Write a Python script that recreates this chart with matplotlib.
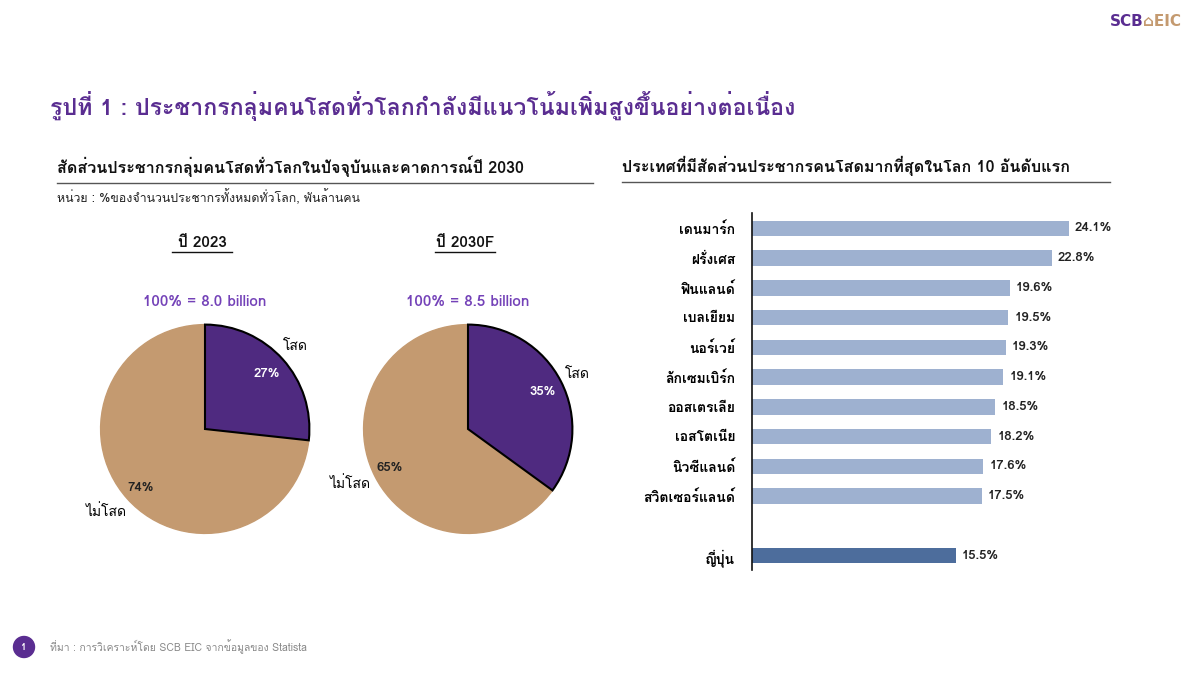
import matplotlib
matplotlib.use("Agg")
import matplotlib.pyplot as plt
from matplotlib.patches import Ellipse

# Loma renders Thai tone marks correctly without shaping
plt.rcParams["font.family"] = ["Loma", "DejaVu Sans"]

# data
pie_years = ["ปี 2023", "ปี 2030F"]
pie_totals = ["100% = 8.0 billion", "100% = 8.5 billion"]
pie_labels = ["โสด", "ไม่โสด"]
single_2023 = [27, 74]
single_2030 = [35, 65]

countries = ["เดนมาร์ก", "ฝรั่งเศส", "ฟินแลนด์", "เบลเยียม", "นอร์เวย์",
             "ลักเซมเบิร์ก", "ออสเตรเลีย", "เอสโตเนีย", "นิวซีแลนด์", "สวิตเซอร์แลนด์"]
shares = [24.1, 22.8, 19.6, 19.5, 19.3, 19.1, 18.5, 18.2, 17.6, 17.5]
japan_label = "ญี่ปุ่น"
japan_share = 15.5

purple = "#4F2A80"
tan = "#C49A70"
light_blue = "#9EB1D0"
dark_blue = "#4D6D9C"
title_purple = "#5A2D91"

W, H = 1200, 675
fig = plt.figure(figsize=(12, 6.75), dpi=100)
fig.patch.set_facecolor("white")


def fx(px):
    return px / W


def fy(py):
    return 1 - py / H


# header / logo
fig.text(fx(1110), fy(22), "SCB", color=title_purple, fontsize=11, fontweight="bold",
         ha="left", va="center", family=["DejaVu Sans"])
fig.text(fx(1143), fy(22), "⌂EIC", color=tan, fontsize=11, fontweight="bold",
         ha="left", va="center", family=["DejaVu Sans"])
fig.text(fx(50), fy(106), "รูปที่ 1 : ประชากรกลุ่มคนโสดทั่วโลกกำลังมีแนวโน้มเพิ่มสูงขึ้นอย่างต่อเนื่อง",
         color=title_purple, fontsize=16.7, fontweight="bold", ha="left", va="center")

# section headings
fig.text(fx(57), fy(166), "สัดส่วนประชากรกลุ่มคนโสดทั่วโลกในปัจจุบันและคาดการณ์ปี 2030",
         fontsize=11.6, fontweight="bold", ha="left", va="center", color="#111111")
fig.add_artist(plt.Line2D([fx(57), fx(593)], [fy(183), fy(183)], color="#555555", lw=1))
fig.text(fx(57), fy(197), "หน่วย : %ของจำนวนประชากรทั้งหมดทั่วโลก, พันล้านคน",
         fontsize=8.9, ha="left", va="center", color="#222222")

fig.text(fx(622), fy(166), "ประเทศที่มีสัดส่วนประชากรคนโสดมากที่สุดในโลก 10 อันดับแรก",
         fontsize=11.6, fontweight="bold", ha="left", va="center", color="#111111")
fig.add_artist(plt.Line2D([fx(622), fx(1110)], [fy(182), fy(182)], color="#555555", lw=1))

# pies
pie_data = [single_2023, single_2030]
centers = [(205, 429), (468, 429)]
r = 106.5
label_px = [
    {"pct": [(268, 373), (139, 489)], "lab": [(297, 345), (104, 513)]},
    {"pct": [(544, 391), (388, 469)], "lab": [(580, 373), (348, 485)]},
]
for i, vals in enumerate(pie_data):
    cx, cy = centers[i]
    ax = fig.add_axes([fx(cx - r), fy(cy + r), 2 * r / W, 2 * r / H])
    wedges, _ = ax.pie(vals, colors=[purple, tan], startangle=90, counterclock=False,
                       radius=1)
    wedges[0].set_edgecolor("black")
    wedges[0].set_linewidth(1.5)
    wedges[0].set_zorder(3)
    wedges[1].set_edgecolor(tan)
    ax.set_xlim(-1.02, 1.02)
    ax.set_ylim(-1.02, 1.02)
    for j, v in enumerate(vals):
        px, py = label_px[i]["pct"][j]
        ax.text((px - cx) / r, (cy - py) / r, f"{v}%", ha="center", va="center",
                fontsize=9.5, fontweight="bold", color="white" if j == 0 else "#222222",
                zorder=5)
        px, py = label_px[i]["lab"][j]
        ax.text((px - cx) / r, (cy - py) / r, pie_labels[j], ha="center", va="center",
                fontsize=10, color="black", clip_on=False)
    fig.text(fx(cx - 3), fy(243), pie_years[i], fontsize=11, fontweight="bold",
             ha="center", va="center", color="#111111")
    fig.add_artist(plt.Line2D([fx(cx - 33), fx(cx + 27)], [fy(252), fy(252)],
                              color="#111111", lw=1))
    fig.text(fx(cx), fy(302), pie_totals[i], fontsize=11, fontweight="bold",
             ha="center", va="center", color="#7442B8")

# bar chart
ax2 = fig.add_axes([fx(752), fy(570), (1110 - 752) / W, (570 - 213) / H])
pos = list(range(len(countries))) + [len(countries) + 1]
vals = shares + [japan_share]
names = countries + [japan_label]
cols = [light_blue] * len(countries) + [dark_blue]
ax2.barh(pos, vals, height=0.52, color=cols)
ax2.set_xlim(0, (1110 - 752) / 13.15)
ax2.set_ylim(11.48, -0.52)
for s in ["top", "right", "bottom"]:
    ax2.spines[s].set_visible(False)
ax2.spines["left"].set_color("#111111")
ax2.spines["left"].set_linewidth(1.2)
ax2.set_xticks([])
ax2.set_yticks(pos)
ax2.set_yticklabels(names, fontsize=10, fontweight="bold")
ax2.tick_params(axis="y", length=0, pad=12)
for p, v in zip(pos, vals):
    ax2.text(v + 0.45, p, f"{v}%", ha="left", va="center", fontsize=9.5,
             fontweight="bold", color="#222222")

# footer
fig.add_artist(Ellipse((fx(24), fy(647)), 21 / W, 21 / H, color=title_purple,
                       transform=fig.transFigure))
fig.text(fx(24), fy(647), "1", color="white", fontsize=7, ha="center", va="center",
         fontweight="bold")
fig.text(fx(50), fy(647), "ที่มา : การวิเคราะห์โดย SCB EIC จากข้อมูลของ Statista",
         color="#888888", fontsize=7.5, ha="left", va="center")

fig.savefig("out.png", dpi=100)
